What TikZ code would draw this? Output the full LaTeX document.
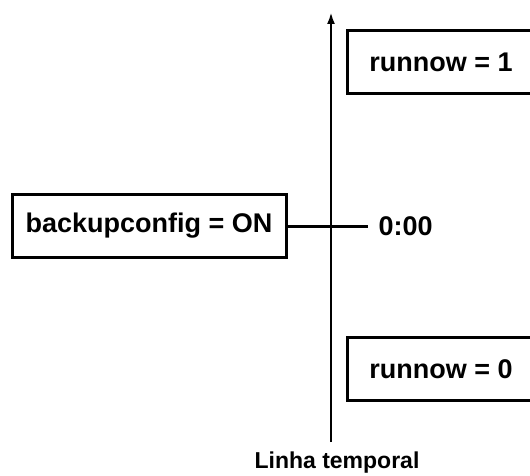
\documentclass[tikz,border=0pt]{standalone}
\usepackage{fontspec}
\setmainfont{Liberation Sans}
\usetikzlibrary{arrows.meta}
\begin{document}
\begin{tikzpicture}[x=1pt, y=1pt, line width=3pt,
    estado/.style={draw, minimum height=63pt, inner sep=0pt,
        font=\fontsize{27}{30}\selectfont\bfseries},
    rotulo/.style={inner sep=0pt, font=\fontsize{27}{30}\selectfont\bfseries}]
    \useasboundingbox (0,0) rectangle (530,475);
    % eixo do tempo
    \coordinate (base) at (331,33);
    \coordinate (topo) at (331,463);
    \draw[-{Latex[length=12pt,width=8pt]}, line width=2.8pt] (base) -- (topo);
    % caixas
    \node[estado, minimum width=188pt] (run1) at (441,413) {runnow = 1};
    \node[estado, minimum width=188pt] (run0) at (441,106) {runnow = 0};
    \node[estado, minimum width=274pt] (backup) at (149,249) {backupconfig = ON};
    \coordinate (marca) at (368,249);
    \draw (backup.east) -- (marca);
    \node[rotulo, anchor=west] (hora) at (377,249) {0:00};
    \node[inner sep=0pt, font=\fontsize{23}{26}\selectfont\bfseries] (legenda) at (337,12) {Linha temporal};
\end{tikzpicture}
\end{document}
